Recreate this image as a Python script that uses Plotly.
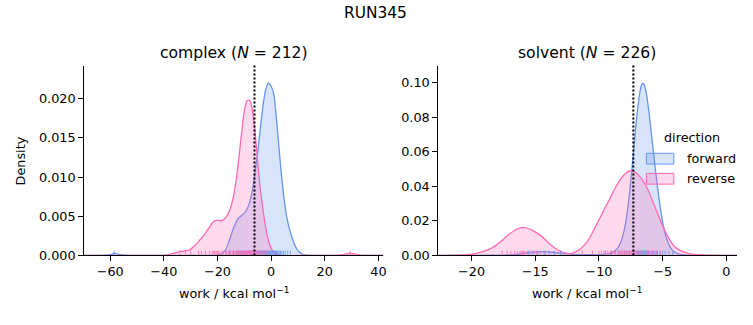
import plotly.graph_objects as go

# ---- data -------------------------------------------------------------
# KDE curves of the work distributions (work in kcal/mol, density)
complex_fwd_x = [-70, -64, -61, -59, -58.3, -57.5, -55.5, -53, -30, -20, -19, -18, -17, -16, -15, -14,
                 -13, -12, -11, -10, -9, -8, -7, -6, -5, -4, -3, -2, -1, 0, 1, 2, 3, 4, 5, 6, 7, 8,
                 9, 10, 11, 12, 13, 20, 42]
complex_fwd_y = [0, 0, 0.00005, 0.0002, 0.0003, 0.0002, 0.00005, 0, 0, 0.00002, 0.0001, 0.0003, 0.0007,
                 0.0015, 0.0025, 0.0035, 0.0043, 0.0048, 0.0051, 0.0054, 0.0059, 0.0068, 0.0083, 0.0106,
                 0.0132, 0.0163, 0.0192, 0.0212, 0.0220, 0.0216, 0.0206, 0.0174, 0.0135, 0.0098, 0.0068,
                 0.0046, 0.0032, 0.0021, 0.0012, 0.0006, 0.0003, 0.0001, 0.00003, 0, 0]

complex_rev_x = [-70, -45, -40, -39, -38, -37, -36, -35, -34, -33, -32, -31, -30, -29, -28, -27, -26,
                 -25, -24, -23, -22, -21, -20, -19, -18, -17, -16, -15, -14, -13, -12, -11, -10, -9,
                 -8, -7, -6, -5, -4, -3, -2, -1, 0, 1, 2, 3, 4, 15, 24, 27, 29.5, 32, 35, 42]
complex_rev_y = [0, 0, 0, 0.00005, 0.0001, 0.0002, 0.0003, 0.0004, 0.0005, 0.0005, 0.0006, 0.0006,
                 0.0008, 0.0011, 0.0014, 0.0018, 0.0022, 0.0026, 0.0031, 0.0036, 0.0041, 0.0044, 0.0045,
                 0.0044, 0.0045, 0.0048, 0.0053, 0.0062, 0.0076, 0.0097, 0.0125, 0.0157, 0.0184, 0.0198,
                 0.0198, 0.0186, 0.0158, 0.0120, 0.0084, 0.0058, 0.0035, 0.0019, 0.0009, 0.0004, 0.0002,
                 0.0001, 0, 0, 0, 0.0001, 0.0003, 0.0001, 0, 0]

solvent_fwd_x = [-22.6, -18, -17, -16.2, -15.6, -15, -14.2, -13.6, -13, -12, -11, -10.5, -10, -9.6,
                 -9.2, -8.85, -8.55, -8.3, -8.1, -7.9, -7.75, -7.6, -7.45, -7.3, -7.15, -7.0, -6.85,
                 -6.7, -6.56, -6.4, -6.25, -6.1, -5.95, -5.8, -5.65, -5.5, -5.35, -5.2, -5.05, -4.9,
                 -4.7, -4.5, -4.25, -4.0, -3.6, -3.0, -2.0, 0.84]
solvent_fwd_y = [0, 0.0001, 0.0003, 0.0008, 0.0016, 0.0020, 0.0022, 0.0018, 0.0012, 0.0006, 0.0004,
                 0.0004, 0.0004, 0.0006, 0.0010, 0.0020, 0.0040, 0.0075, 0.0120, 0.0190, 0.0265, 0.0360,
                 0.0470, 0.0590, 0.0715, 0.0825, 0.0915, 0.0975, 0.0997, 0.0978, 0.0925, 0.0845, 0.0750,
                 0.0650, 0.0550, 0.0455, 0.0365, 0.0285, 0.0215, 0.0155, 0.0100, 0.0062, 0.0032, 0.0016,
                 0.0006, 0.0002, 0, 0]

solvent_rev_x = [-22.6, -21, -20.3, -19.7, -19.0, -18.4, -17.7, -17.1, -16.5, -15.94, -15.3, -14.5,
                 -14.0, -13.46, -13.0, -12.6, -12.16, -11.8, -11.5, -11.1, -10.7, -10.34, -10.0, -9.56,
                 -9.2, -8.78, -8.4, -8.0, -7.53, -7.1, -6.6, -6.17, -5.7, -5.13, -4.6, -4.1, -3.6,
                 -3.05, -2.5, -1.5, -0.5, 0.84]
solvent_rev_y = [0, 0.0001, 0.0004, 0.0010, 0.0024, 0.0043, 0.0080, 0.0119, 0.0150, 0.0162, 0.0148,
                 0.0110, 0.0075, 0.0043, 0.0024, 0.0013, 0.0011, 0.0022, 0.0035, 0.0062, 0.0105, 0.0157,
                 0.0205, 0.0270, 0.0320, 0.0383, 0.0430, 0.0468, 0.0490, 0.0478, 0.0438, 0.0383, 0.0298,
                 0.0194, 0.0110, 0.0053, 0.0028, 0.0013, 0.0006, 0.0002, 0.00005, 0]

# individual work values (rug)
complex_fwd_rug = [-58.5, -15.5, -14, -13, -12.3, -12, -11.4, -11, -10.3, -10, -9.4, -9, -8.5, -8, -7.6,
                   -7, -6.5, -6.2, -6, -5.5, -5.2, -5, -4.7, -4.5, -4.2, -4, -3.7, -3.5, -3.2, -3, -2.8,
                   -2.5, -2.3, -2, -1.8, -1.5, -1.2, -1, -0.8, -0.5, -0.2, 0, 0.3, 0.6, 0.8, 1, 1.3,
                   1.5, 1.7, 2, 2.3, 2.5, 3, 3.3, 3.5, 4, 4.6, 5.3, 6.2, 7.2]
complex_rev_rug = [-34, -32, -30, -27, -26, -24.5, -23, -22, -21.4, -21, -20.5, -20, -19.5, -18.7, -18,
                   -17, -16.5, -16, -15.4, -15, -14.5, -14, -13.5, -13, -12.5, -12.2, -12, -11.7, -11.5,
                   -11.2, -11, -10.7, -10.5, -10.2, -10, -9.8, -9.5, -9.2, -9, -8.8, -8.7, -8.5, -8.3,
                   -8.2, -8, -7.8, -7.7, -7.5, -7.3, -7.2, -7, -6.7, -6.5, -6.2, -6, -5.5, -5.2, -5,
                   -4.5, -4, -3.5, -3, -2.2, -1.6, 29.5]
solvent_fwd_rug = [-15.5, -15.2, -14.8, -14.3, -13.9, -13.5, -13, -9.5, -9, -8.5, -8.2, -8, -7.8, -7.6,
                   -7.4, -7.3, -7.2, -7.1, -7, -6.95, -6.9, -6.85, -6.8, -6.75, -6.7, -6.65, -6.6, -6.55,
                   -6.5, -6.45, -6.4, -6.35, -6.3, -6.25, -6.2, -6.15, -6.1, -6, -5.9, -5.8, -5.7, -5.6,
                   -5.5, -5.4, -5.2, -5, -4.8, -4.5, -4.2]
solvent_rev_rug = [-17.6, -17.2, -16.9, -16.6, -16.4, -16.2, -16.1, -16, -15.9, -15.8, -15.6, -15.4,
                   -15.1, -14.9, -14.6, -14.2, -11.3, -10.5, -10, -9.8, -9.6, -9.3, -9.1, -9, -8.8, -8.7,
                   -8.5, -8.4, -8.3, -8.2, -8.1, -8, -7.9, -7.8, -7.7, -7.6, -7.5, -7.4, -7.3, -7.2,
                   -7.1, -7, -6.9, -6.7, -6.5, -6.3, -6.1, -5.8, -5.5, -5.2]

# free-energy estimates (dotted lines)
complex_dg = -6.2
solvent_dg = -7.3

complex_n = 212
solvent_n = 226
run_name = "RUN345"
directions = ["forward", "reverse"]

# ---- styling ----------------------------------------------------------
FONT = "DejaVu Sans"
BLUE = "#6495ED"
PINK = "#FF69B4"
BLUE_FILL = "rgba(100,149,237,0.25)"
PINK_FILL = "rgba(255,105,180,0.25)"
W, H = 753, 325

x_ranges = [[-69.9, 41.9], [-22.65, 0.84]]
y_ranges = [[0, 0.02425], [0, 0.1099]]
x_domains = [[84 / W, 385 / W], [439.5 / W, 740 / W]]
y_domain = [(H - 261) / H, (H - 67) / H]

fig = go.Figure()

panels = [
    (complex_fwd_x, complex_fwd_y, complex_rev_x, complex_rev_y, complex_fwd_rug, complex_rev_rug, "x", "y"),
    (solvent_fwd_x, solvent_fwd_y, solvent_rev_x, solvent_rev_y, solvent_fwd_rug, solvent_rev_rug, "x2", "y2"),
]

for i, (fx, fy, rx, ry, frug, rrug, xa, ya) in enumerate(panels):
    for xs, ys, col, fill in [(fx, fy, BLUE, BLUE_FILL), (rx, ry, PINK, PINK_FILL)]:
        fig.add_trace(go.Scatter(
            x=xs, y=ys, mode="lines", line=dict(color=col, width=1.3, shape="spline", smoothing=0.6),
            fill="tozeroy", fillcolor=fill, showlegend=False,
            xaxis=xa, yaxis=ya, hoverinfo="skip"))
    # rug ticks: 2.5% of the axis height
    h = 0.025 * y_ranges[i][1]
    for vals, col in [(frug, BLUE), (rrug, PINK)]:
        rx_, ry_ = [], []
        for v in vals:
            rx_ += [v, v, None]
            ry_ += [0, h, None]
        fig.add_trace(go.Scatter(
            x=rx_, y=ry_, mode="lines", line=dict(color=col, width=1), opacity=0.8,
            showlegend=False, xaxis=xa, yaxis=ya, hoverinfo="skip"))

axis_common = dict(showline=True, linecolor="black", linewidth=1, ticks="outside", ticklen=4.5,
                   tickwidth=1, tickcolor="black", showgrid=False, zeroline=False,
                   tickfont=dict(family=FONT, size=12.8, color="black"))

fig.update_layout(
    width=W, height=H, margin=dict(l=0, r=0, t=0, b=0),
    paper_bgcolor="white", plot_bgcolor="rgba(0,0,0,0)",
    font=dict(family=FONT, color="black"),
    xaxis=dict(domain=x_domains[0], range=x_ranges[0], dtick=20, tick0=0, anchor="y", **axis_common),
    yaxis=dict(domain=y_domain, range=y_ranges[0], dtick=0.005, tickformat=".3f", anchor="x", **axis_common),
    xaxis2=dict(domain=x_domains[1], range=x_ranges[1], dtick=5, tick0=0, anchor="y2", **axis_common),
    yaxis2=dict(domain=y_domain, range=y_ranges[1], dtick=0.02, tickformat=".2f", anchor="x2", **axis_common),
    showlegend=False,
)

# dotted free-energy markers
for dg, xa, ya in [(complex_dg, "x", "y"), (solvent_dg, "x2", "y2")]:
    fig.add_shape(type="line", x0=dg, x1=dg, y0=0, y1=1, xref=xa, yref=f"{ya} domain",
                  line=dict(color="black", width=2, dash="2px,2px"))


def px_y(py):
    return (H - py) / H


# legend box: title, patches, labels
for (fill, col), label, top in zip([(BLUE_FILL, BLUE), (PINK_FILL, PINK)], directions, [156.7, 177.2]):
    fig.add_shape(type="rect", xref="paper", yref="paper",
                  x0=649 / W, x1=676.5 / W, y0=px_y(top + 11), y1=px_y(top),
                  fillcolor=fill, line=dict(color=col, width=1))
    fig.add_annotation(text=label, x=688 / W, y=px_y(top + 5.5), xanchor="left", yanchor="middle",
                       xref="paper", yref="paper", showarrow=False,
                       font=dict(family=FONT, size=12.8, color="black"))

annotations = [
    dict(text="direction", x=695 / W, y=px_y(141), font=dict(size=12.8)),
    dict(text=run_name, x=376.5 / W, y=px_y(13), font=dict(size=15.4)),
    dict(text=f"complex (<i>N</i> = {complex_n})", x=234.5 / W, y=px_y(54), font=dict(size=15.6)),
    dict(text=f"solvent (<i>N</i> = {solvent_n})", x=589.7 / W, y=px_y(54), font=dict(size=15.6)),
    dict(text="work / kcal mol<sup>−1</sup>", x=234.5 / W, y=px_y(299), font=dict(size=12.8)),
    dict(text="work / kcal mol<sup>−1</sup>", x=589.7 / W, y=px_y(299), font=dict(size=12.8)),
    dict(text="Density", x=21 / W, y=px_y(164), font=dict(size=12.8), textangle=-90),
]
for a in annotations:
    a.update(xref="paper", yref="paper", showarrow=False, xanchor="center", yanchor="middle")
    a["font"].update(family=FONT, color="black")
    fig.add_annotation(**a)

fig.write_html("out.html")
